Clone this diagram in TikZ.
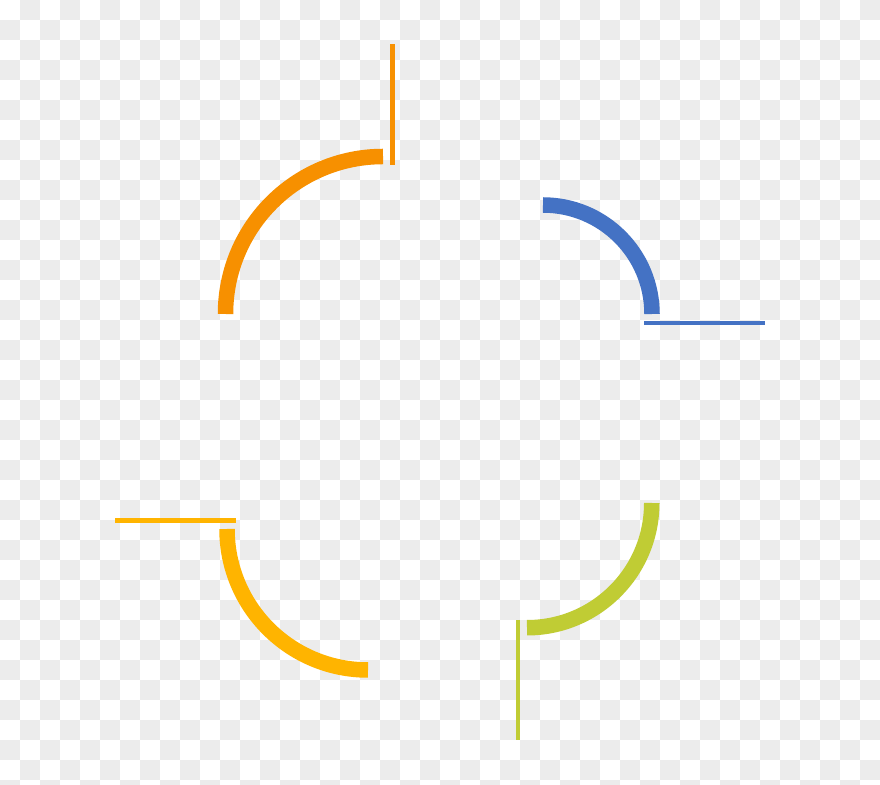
\documentclass[tikz,border=0pt]{standalone}
\usepackage{tikz}
\usetikzlibrary{positioning}

\definecolor{ringorange}{RGB}{247,144,0}
\definecolor{ringblue}{RGB}{68,114,196}
\definecolor{ringgold}{RGB}{255,180,0}
\definecolor{ringlime}{RGB}{192,204,52}
\definecolor{checkgray}{RGB}{236,236,236}

\tikzset{
  ringarc/.style={line width=15.5pt, line cap=butt},
  tickline/.style={line width=4.5pt, line cap=butt}
}

\begin{document}
\begin{tikzpicture}[x=1pt, y=1pt]
    \useasboundingbox (0,0) rectangle (880,784);
    \begin{scope}
    \clip (0,0) rectangle (880,784);
    \fill[white] (0,0) rectangle (880,784);
    % checker background
    \foreach \i in {1,3,...,43}
      \foreach \j in {0,2,...,38}
        \fill[checkgray] (20*\i,764-20*\j) rectangle +(20,20);
    \foreach \i in {0,2,...,42}
      \foreach \j in {1,3,...,39}
        \fill[checkgray] (20*\i,764-20*\j) rectangle +(20,20);
    \end{scope}

    \coordinate (orangectr) at (383,470);
    \coordinate (bluectr) at (543,470);
    \coordinate (goldctr) at (368,255);
    \coordinate (limectr) at (527,281);

    % arcs
    \draw[ringarc, ringorange] ([xshift=-157.5pt]orangectr) arc[start angle=180, end angle=90, radius=157.5] coordinate (orangeend);
    \draw[ringarc, ringblue] ([yshift=109pt]bluectr) arc[start angle=90, end angle=0, radius=109] coordinate (blueend);
    \draw[ringarc, ringgold] ([xshift=-141pt]goldctr) arc[start angle=180, end angle=270, radius=141] coordinate (goldend);
    \draw[ringarc, ringlime] ([xshift=124.75pt]limectr) arc[start angle=0, end angle=-90, radius=124.75] coordinate (limeend);

    % thin lines
    \coordinate (orangetop) at (392.5,740);
    \coordinate (orangebot) at (392.5,619);
    \draw[tickline, ringorange] (orangebot) -- (orangetop);
    \coordinate (blueleft) at (644,461);
    \coordinate (blueright) at (765,461);
    \draw[tickline, ringblue] (blueleft) -- (blueright);
    \coordinate (goldleft) at (115,263.5);
    \coordinate (goldright) at (236,263.5);
    \draw[tickline, ringgold] (goldleft) -- (goldright);
    \coordinate (limetop) at (518,164);
    \coordinate (limebot) at (518,44);
    \draw[tickline, ringlime] (limetop) -- (limebot);
\end{tikzpicture}
\end{document}
